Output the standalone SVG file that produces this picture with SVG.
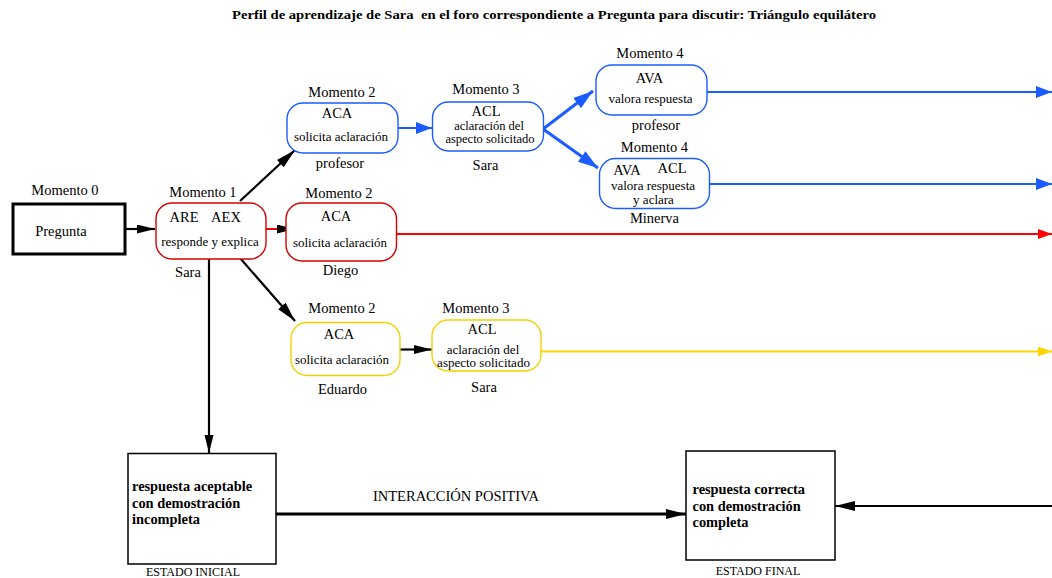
<svg xmlns="http://www.w3.org/2000/svg" width="1052" height="578" viewBox="0 0 1052 578">
<style>
text{font-family:"Liberation Serif","Times New Roman",serif;fill:#000;}
.t{font-size:14.5px;text-anchor:middle;}
.s{font-size:13px;text-anchor:middle;}
.s2{font-size:12.5px;text-anchor:middle;}
.b{font-size:14.4px;font-weight:bold;}
.title{font-size:13px;font-weight:bold;text-anchor:middle;}
.cap{font-size:12px;text-anchor:middle;}
.rn{fill:#fff;stroke:#d40000;stroke-width:1.4;}
.bn{fill:#fff;stroke:#1a5cff;stroke-width:1.4;}
.yn{fill:#fff;stroke:#f5d000;stroke-width:1.4;}
.box{fill:#fff;stroke:#000;stroke-width:1.5;}
.blk{stroke:#000;stroke-width:2.2;fill:none;}
.blu{stroke:#1a5cff;stroke-width:2.2;fill:none;}
.blu3{stroke:#1a5cff;stroke-width:3;fill:none;}
.red{stroke:#ff0000;stroke-width:2;fill:none;}
.yel{stroke:#ffd700;stroke-width:2;fill:none;}
</style>
<defs>
<marker id="ak" markerUnits="userSpaceOnUse" markerWidth="20" markerHeight="12" refX="18" refY="4.5" orient="auto"><path d="M0,0 L18,4.5 L0,9 z" fill="#000"/></marker>
<marker id="akl" markerUnits="userSpaceOnUse" markerWidth="22" markerHeight="12" refX="20" refY="5" orient="auto"><path d="M0,0 L20,5 L0,10 z" fill="#000"/></marker>
<marker id="ab" markerUnits="userSpaceOnUse" markerWidth="20" markerHeight="14" refX="16" refY="6" orient="auto"><path d="M0,0 L16,6 L0,12 z" fill="#1a5cff"/></marker>
<marker id="ab2" markerUnits="userSpaceOnUse" markerWidth="22" markerHeight="14" refX="20" refY="6.5" orient="auto"><path d="M0,0 L20,6.5 L0,13 z" fill="#1a5cff"/></marker>
<marker id="ar" markerUnits="userSpaceOnUse" markerWidth="18" markerHeight="12" refX="14" refY="5" orient="auto"><path d="M0,0 L14,5 L0,10 z" fill="#ff0000"/></marker>
<marker id="ay" markerUnits="userSpaceOnUse" markerWidth="18" markerHeight="12" refX="14" refY="5" orient="auto"><path d="M0,0 L14,5 L0,10 z" fill="#ffd700"/></marker>
</defs>

<text class="title" x="554" y="19" textLength="644" lengthAdjust="spacingAndGlyphs">Perfil de aprendizaje de Sara&#160; en el foro correspondiente a Pregunta para discutir: Triángulo equilátero</text>

<g id="connectors">
<line class="blk" x1="126" y1="229" x2="155" y2="229" marker-end="url(#ak)"/>
<line class="red" x1="265" y1="229" x2="295" y2="229" marker-end="url(#ak)"/>
<line class="blk" x1="240" y1="201" x2="295" y2="150" marker-end="url(#akl)"/>
<line class="blk" x1="240" y1="258" x2="295" y2="321" marker-end="url(#akl)"/>
<line class="blu" x1="398" y1="128" x2="432" y2="128" marker-end="url(#ab)"/>
<line class="blu3" x1="543" y1="129" x2="593" y2="91" marker-end="url(#ab2)"/>
<line class="blu3" x1="543" y1="129" x2="598" y2="168" marker-end="url(#ab2)"/>
<line class="blu" x1="707" y1="92" x2="1052" y2="92" marker-end="url(#ab)"/>
<line class="blu" x1="709" y1="184" x2="1052" y2="184" marker-end="url(#ab)"/>
<line class="red" x1="396" y1="234" x2="1052" y2="234" marker-end="url(#ar)"/>
<line class="blk" x1="400" y1="349.5" x2="432" y2="349.5" marker-end="url(#ak)"/>
<line class="yel" x1="541" y1="351.5" x2="1052" y2="351.5" marker-end="url(#ay)"/>
<line class="blk" x1="209" y1="259" x2="209" y2="453" marker-end="url(#ak)"/>
<line stroke="#000" stroke-width="3" x1="276" y1="514" x2="686" y2="514" marker-end="url(#akl)"/>
<line class="blk" x1="1052" y1="506" x2="835" y2="506" marker-end="url(#akl)"/>
<text class="t" x="456" y="501">INTERACCIÓN POSITIVA</text>
</g>

<g id="n0">
<text class="t" x="65" y="195">Momento 0</text>
<rect x="13" y="204" width="112" height="50" fill="#fff" stroke="#000" stroke-width="3"/>
<text class="t" x="61" y="236">Pregunta</text>
</g>

<g id="n1">
<text class="t" x="203" y="197">Momento 1</text>
<rect class="rn" x="156" y="203" width="110" height="56" rx="16"/>
<text class="t" x="184" y="222">ARE</text>
<text class="t" x="226" y="222">AEX</text>
<text class="s" x="210" y="246">responde y explica</text>
<text class="t" x="188" y="277">Sara</text>
</g>

<g id="n2p">
<text class="t" x="342" y="97">Momento 2</text>
<rect class="bn" x="287" y="103" width="111" height="50" rx="16"/>
<text class="t" x="337" y="118">ACA</text>
<text class="s" x="341" y="141">solicita aclaración</text>
<text class="t" x="340" y="168">profesor</text>
</g>

<g id="n3p">
<text class="t" x="486" y="94">Momento 3</text>
<rect class="bn" x="432.5" y="102" width="111" height="49" rx="16"/>
<text class="t" x="486" y="116">ACL</text>
<text class="s2" x="489" y="129.5">aclaración del</text>
<text class="s2" x="490" y="142.5">aspecto solicitado</text>
<text class="t" x="485.5" y="170">Sara</text>
</g>

<g id="n4a">
<text class="t" x="650" y="58">Momento 4</text>
<rect class="bn" x="596" y="65" width="111" height="50" rx="16"/>
<text class="t" x="649.5" y="83">AVA</text>
<text class="s" x="650.5" y="103">valora respuesta</text>
<text class="t" x="656" y="130">profesor</text>
</g>

<g id="n4b">
<text class="t" x="654.5" y="152">Momento 4</text>
<rect class="bn" x="599.5" y="158.5" width="110" height="50" rx="16"/>
<text class="t" x="627" y="175">AVA</text>
<text class="t" x="672" y="173">ACL</text>
<text class="s" x="653" y="190">valora respuesta</text>
<text class="s" x="653.5" y="204">y aclara</text>
<text class="t" x="654.5" y="223">Minerva</text>
</g>

<g id="n2d">
<text class="t" x="339" y="198">Momento 2</text>
<rect class="rn" x="286" y="203" width="110.5" height="58" rx="16"/>
<text class="t" x="336" y="221">ACA</text>
<text class="s" x="340" y="247">solicita aclaración</text>
<text class="t" x="340.5" y="275">Diego</text>
</g>

<g id="n2e">
<text class="t" x="342" y="313">Momento 2</text>
<rect class="yn" x="291" y="322.5" width="109" height="53" rx="16"/>
<text class="t" x="339" y="339">ACA</text>
<text class="s" x="342" y="364">solicita aclaración</text>
<text class="t" x="342.5" y="394">Eduardo</text>
</g>

<g id="n3e">
<text class="t" x="476" y="313">Momento 3</text>
<rect class="yn" x="432" y="320" width="109" height="51" rx="16"/>
<text class="t" x="482" y="334">ACL</text>
<text class="s" x="483" y="354">aclaración del</text>
<text class="s" x="483.5" y="367">aspecto solicitado</text>
<text class="t" x="484" y="392">Sara</text>
</g>

<g id="inicial">
<rect class="box" x="128" y="453.5" width="148" height="110.5"/>
<text class="b" x="132" y="491">respuesta aceptable</text>
<text class="b" x="132" y="507.5">con demostración</text>
<text class="b" x="132" y="524">incompleta</text>
<text class="cap" x="193" y="576">ESTADO INICIAL</text>
</g>

<g id="final">
<rect class="box" x="686" y="451" width="149" height="109"/>
<text class="b" x="692.5" y="494">respuesta correcta</text>
<text class="b" x="692.5" y="510.5">con demostración</text>
<text class="b" x="692.5" y="527">completa</text>
<text class="cap" x="758" y="575">ESTADO FINAL</text>
</g>
</svg>
